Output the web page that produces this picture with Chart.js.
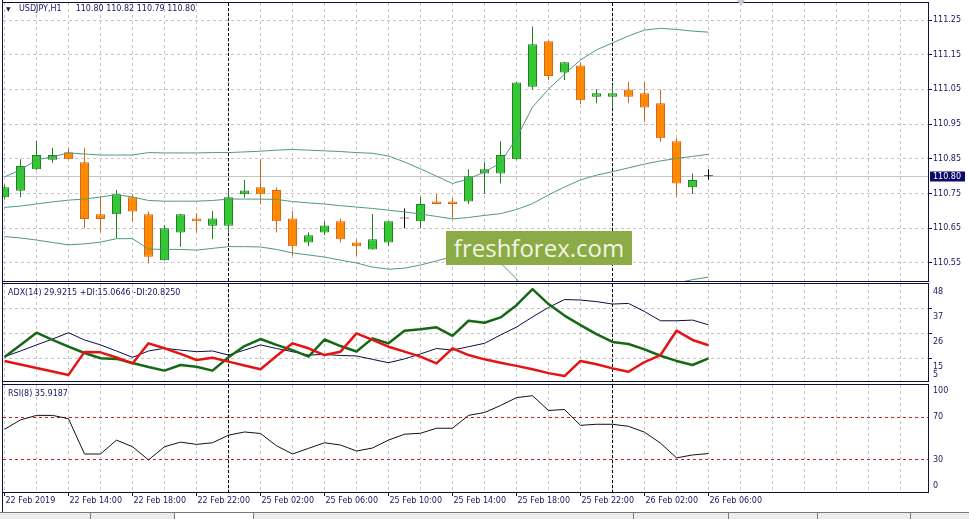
<!DOCTYPE html>
<html>
<head>
<meta charset="utf-8">
<title>USDJPY H1</title>
<script src="https://cdn.jsdelivr.net/npm/chart.js@4.4.1/dist/chart.umd.min.js"></script>
<style>
body { margin: 0; background: #fff; }
#wrap { position: relative; width: 969px; height: 519px; overflow: hidden; background: #fff; }
#wrap canvas { position: absolute; left: 0; }
.cap { position: absolute; font: 8px "DejaVu Sans", sans-serif; line-height: 10px; color: #16165e; white-space: pre; }
#watermark { position: absolute; left: 446px; top: 231px; width: 186px; height: 34px; background: #8aab45; color: #f2f5e4; font: 24px "Open Sans", sans-serif; line-height: 34px; text-align: center; }
#leftEdge { position: absolute; left: 2px; top: 0; width: 1px; height: 512px; background: #10103a; }
#shift { position: absolute; left: 737px; top: 0; width: 0; height: 0; border-left: 4px solid transparent; border-right: 4px solid transparent; border-top: 6px solid #c8c8d0; }
#tabs { position: absolute; left: 0; top: 512px; width: 969px; height: 7px; background: #ececec; border-top: 1px solid #7a7a7a; }
.tab { position: absolute; top: 0; height: 7px; border-left: 1px solid #7a7a7a; }
</style>
</head>
<body>
<div id="wrap">
<canvas id="mainChart" width="969" height="282" style="top:0"></canvas>
<canvas id="adxChart" width="969" height="101" style="top:282px"></canvas>
<canvas id="rsiChart" width="969" height="126" style="top:383px"></canvas>
<div id="leftEdge"></div>
<div id="shift"></div>
<div class="cap" style="left:6px;top:4px;font-size:6px">▼</div>
<div class="cap" style="left:19px;top:4px">USDJPY,H1<span style="margin-left:14px">110.80 110.82 110.79 110.80</span></div>
<div class="cap" style="left:8px;top:288px">ADX(14) 29.9215 +DI:15.0646 -DI:20.8250</div>
<div class="cap" style="left:8px;top:389px">RSI(8) 35.9187</div>
<div id="watermark">freshforex.com</div>
<div id="tabs">
<div class="tab" style="left:90px"></div>
<div class="tab" style="left:174px;width:78px;background:#fff"></div>
<div class="tab" style="left:253px"></div>
<div class="tab" style="left:633px"></div>
<div class="tab" style="left:728px"></div>
<div class="tab" style="left:817px"></div>
<div class="tab" style="left:910px"></div>
</div>
</div>

<script>
// ===== data (H1 bars, 22 Feb 10:00 .. 26 Feb 06:00) =====
const timeLabels = ["22 Feb 2019", "22 Feb 14:00", "22 Feb 18:00", "22 Feb 22:00",
  "25 Feb 02:00", "25 Feb 06:00", "25 Feb 10:00", "25 Feb 14:00",
  "25 Feb 18:00", "25 Feb 22:00", "26 Feb 02:00", "26 Feb 06:00"];
const labelEvery = 4;
const dayStarts = [14, 38];

const openPrice = [110.739, 110.758, 110.820, 110.847, 110.869, 110.840, 110.690, 110.690, 110.739, 110.690,
  110.558, 110.638, 110.678, 110.657, 110.657, 110.748, 110.768, 110.760, 110.678, 110.609,
  110.638, 110.670, 110.609, 110.589, 110.609, 110.678, 110.670, 110.727, 110.727, 110.727,
  110.808, 110.808, 110.849, 111.058, 111.189, 111.099, 111.119, 111.029, 111.029, 111.050,
  111.039, 111.010, 110.901, 110.768, 110.800];
const highPrice = [110.775, 110.849, 110.902, 110.882, 110.882, 110.882, 110.739, 110.760, 110.749, 110.698,
  110.659, 110.691, 110.693, 110.700, 110.760, 110.789, 110.849, 110.768, 110.700, 110.638,
  110.670, 110.678, 110.618, 110.691, 110.671, 110.707, 110.741, 110.749, 110.737, 110.820,
  110.840, 110.901, 111.071, 111.231, 111.190, 111.129, 111.128, 111.051, 111.063, 111.072,
  111.072, 111.050, 110.909, 110.808, 110.820];
const lowPrice = [110.733, 110.739, 110.818, 110.839, 110.848, 110.650, 110.638, 110.621, 110.669, 110.549,
  110.557, 110.597, 110.638, 110.618, 110.638, 110.738, 110.720, 110.638, 110.570, 110.598,
  110.630, 110.609, 110.570, 110.589, 110.598, 110.650, 110.650, 110.719, 110.678, 110.720,
  110.749, 110.779, 110.848, 111.050, 111.077, 111.077, 111.007, 111.010, 110.998, 111.010,
  110.957, 110.899, 110.741, 110.749, 110.790];
const closePrice = [110.768, 110.829, 110.861, 110.861, 110.849, 110.677, 110.677, 110.748, 110.698, 110.568,
  110.650, 110.690, 110.670, 110.678, 110.739, 110.759, 110.748, 110.670, 110.598, 110.630,
  110.658, 110.618, 110.598, 110.618, 110.670, 110.678, 110.720, 110.720, 110.720, 110.800,
  110.820, 110.861, 111.070, 111.180, 111.089, 111.128, 111.019, 111.039, 111.039, 111.029,
  110.998, 110.909, 110.779, 110.789, 110.800];

const bbUpper = [110.798, 110.818, 110.847, 110.856, 110.867, 110.864, 110.861, 110.861, 110.861, 110.868,
  110.867, 110.867, 110.867, 110.868, 110.868, 110.870, 110.872, 110.875, 110.877, 110.875,
  110.873, 110.871, 110.868, 110.866, 110.858, 110.841, 110.821, 110.800, 110.779, 110.792,
  110.812, 110.838, 110.910, 110.999, 111.051, 111.094, 111.135, 111.164, 111.184, 111.204,
  111.221, 111.226, 111.223, 111.218, 111.215];
const bbMiddle = [110.710, 110.714, 110.720, 110.726, 110.731, 110.734, 110.740, 110.747, 110.740, 110.730,
  110.728, 110.728, 110.728, 110.730, 110.734, 110.734, 110.734, 110.733, 110.727, 110.723,
  110.720, 110.715, 110.711, 110.707, 110.702, 110.697, 110.691, 110.684, 110.677, 110.681,
  110.687, 110.692, 110.704, 110.721, 110.746, 110.769, 110.789, 110.803, 110.813, 110.824,
  110.835, 110.844, 110.851, 110.857, 110.863];
const bbLower = [110.626, 110.622, 110.616, 110.609, 110.602, 110.605, 110.610, 110.620, 110.620, 110.590,
  110.589, 110.589, 110.587, 110.592, 110.597, 110.597, 110.596, 110.589, 110.579, 110.573,
  110.567, 110.558, 110.550, 110.538, 110.532, 110.535, 110.544, 110.556, 110.568, 110.573,
  110.570, 110.550, 110.504, 110.449, 110.429, 110.434, 110.443, 110.452, 110.458, 110.466,
  110.475, 110.483, 110.492, 110.502, 110.509];

const adxLine = [15.8, 18.3, 21.0, 23.6, 26.4, 23.2, 21.0, 18.3, 15.5, 18.3,
  19.5, 18.7, 18.0, 18.3, 16.5, 18.7, 21.0, 19.4, 18.0, 16.5,
  16.8, 16.3, 16.1, 14.6, 13.1, 14.8, 17.0, 19.4, 18.7, 20.2,
  21.7, 25.4, 28.9, 33.4, 37.6, 41.1, 40.9, 40.2, 39.1, 39.4,
  35.8, 31.7, 31.7, 32.0, 29.92];
const plusDI = [15.6, 21.0, 26.4, 23.2, 20.2, 17.4, 15.1, 14.8, 13.0, 11.2,
  9.6, 12.1, 11.3, 9.6, 15.5, 20.5, 23.6, 21.0, 18.7, 15.8,
  23.4, 20.5, 18.1, 23.9, 21.7, 27.3, 27.9, 28.8, 25.0, 31.7,
  30.8, 33.2, 38.6, 45.7, 39.1, 34.0, 29.8, 25.8, 22.3, 21.4,
  19.0, 16.2, 13.9, 12.1, 15.06];
const minusDI = [13.9, 12.3, 10.8, 9.2, 7.7, 17.9, 17.7, 15.4, 12.8, 21.7,
  19.5, 17.0, 14.3, 15.3, 13.6, 11.9, 10.2, 16.1, 21.7, 19.5,
  16.5, 18.0, 26.1, 23.2, 20.2, 18.0, 15.8, 12.8, 19.5, 16.5,
  14.6, 13.1, 11.7, 10.2, 8.5, 7.2, 13.9, 12.4, 10.6, 9.1,
  13.4, 16.5, 27.3, 23.2, 20.83];

const rsiValues = [58.6, 67.4, 71.6, 71.6, 68.5, 35.5, 35.5, 48.5, 42.3, 30.0,
  42.3, 46.6, 44.5, 46.0, 53.1, 56.1, 54.7, 43.2, 35.5, 40.8,
  46.0, 43.9, 38.3, 41.1, 48.5, 54.0, 54.9, 59.6, 59.6, 71.6,
  74.3, 80.8, 88.2, 90.0, 76.2, 77.1, 62.3, 63.3, 63.3, 61.4,
  55.9, 45.7, 31.9, 34.6, 35.92];

const priceTicks = [111.25, 111.15, 111.05, 110.95, 110.85, 110.75, 110.65, 110.55];
const bidPrice = 110.80;
const adxTicks = [48, 37, 26, 15, 5];
const adxGrid = [37, 26, 15];
const rsiTicks = [100, 70, 30, 0];
const rsiLevels = [70, 30];

// ===== colours =====
const NAVY = '#16165e';
const FRAME = '#10103a';
const GRID = '#c6c6c6';
const BAND = '#4c9c7c';
const BULL_FILL = '#34c934', BULL_LINE = '#227f22';
const BEAR_FILL = '#ff8a00', BEAR_LINE = '#d2691e';

// candles -> floating bars
let candleBody = [], candleWick = [], bodyFill = [], bodyLine = [];
openPrice.forEach((o, i) => {
  let c = closePrice[i];
  candleBody.push({x: i, y: [o, c]});
  candleWick.push({x: i, y: [lowPrice[i], highPrice[i]]});
  if (c > o) { bodyFill.push(BULL_FILL); bodyLine.push(BULL_LINE); }
  else if (c < o) { bodyFill.push(BEAR_FILL); bodyLine.push(BEAR_LINE); }
  else { bodyFill.push('#000'); bodyLine.push('#000'); }
});

function pts(arr) { return arr.map((v, i) => ({x: i, y: v})); }
function line(ctx, x1, y1, x2, y2) { ctx.beginPath(); ctx.moveTo(x1, y1); ctx.lineTo(x2, y2); ctx.stroke(); }
function snap(v) { return Math.round(v - 0.5) + 0.5; }

// 16px per bar, first bar at x=4.5
function xAxis(show) {
  return {
    type: 'linear', min: -0.09375, max: 57.71875, offset: false, display: show,
    grid: { display: show, drawOnChartArea: false, drawTicks: true, tickLength: 4, tickColor: FRAME, offset: false },
    border: { display: false },
    afterBuildTicks: s => { s.ticks = timeLabels.map((t, k) => ({value: k * labelEvery})); },
    afterFit: s => { if (show) s.height = 17; },
    ticks: {
      autoSkip: false, maxRotation: 0, minRotation: 0, align: 'start', labelOffset: 1, padding: 0,
      color: NAVY, font: { family: '"DejaVu Sans", sans-serif', size: 8 },
      callback: (v, idx) => timeLabels[idx]
    }
  };
}

function yAxis(min, max) {
  return {
    type: 'linear', position: 'right', min: min, max: max,
    grid: { display: false }, border: { display: false }, ticks: { display: false },
    afterFit: s => { s.width = 41; }
  };
}

// MT4 style panel: dashed grid, day separators, frame, right scale labels
function panel(p) {
  return {
    id: 'panel',
    beforeDatasetsDraw(chart) {
      const ctx = chart.ctx, a = chart.chartArea, x = chart.scales.x, y = chart.scales.y;
      ctx.save();
      ctx.lineWidth = 1;
      ctx.strokeStyle = GRID;
      ctx.setLineDash([3, 3]);
      for (let i = 0; x.getPixelForValue(i) < a.right; i += 2) {
        let px = x.getPixelForValue(i);
        line(ctx, px, a.top, px, a.bottom);
      }
      (p.grid || []).forEach(v => {
        let py = snap(y.getPixelForValue(v));
        line(ctx, a.left, py, a.right, py);
      });
      if (p.levels) {
        ctx.strokeStyle = '#cc2222';
        p.levels.forEach(v => {
          let py = snap(y.getPixelForValue(v));
          line(ctx, a.left, py, a.right, py);
        });
      }
      if (p.bid !== undefined) {
        ctx.setLineDash([]);
        ctx.strokeStyle = '#c3c3c3';
        let py = snap(y.getPixelForValue(p.bid));
        line(ctx, a.left, py, a.right, py);
      }
      ctx.strokeStyle = '#000';
      ctx.setLineDash([3, 2]);
      dayStarts.forEach(i => {
        let px = x.getPixelForValue(i);
        line(ctx, px, a.top, px, a.bottom);
      });
      ctx.restore();
    },
    afterDraw(chart) {
      const ctx = chart.ctx, a = chart.chartArea, y = chart.scales.y;
      ctx.save();
      ctx.lineWidth = 1;
      ctx.strokeStyle = FRAME;
      ctx.strokeRect(a.left - 0.5, a.top - 0.5, a.width + 1, a.height + 1);
      (p.marks || []).forEach(v => {
        let py = snap(y.getPixelForValue(v));
        line(ctx, a.right, py, a.right + 4, py);
      });
      ctx.font = '8px "DejaVu Sans"';
      ctx.textBaseline = 'middle';
      ctx.textAlign = 'left';
      ctx.fillStyle = NAVY;
      p.labels.forEach(v => {
        let py = y.getPixelForValue(v) + (p.shift || 0);
        py = Math.min(Math.max(py, a.top + 6), a.bottom - 6);
        ctx.fillText(p.format(v), a.right + 5, py);
      });
      if (p.bid !== undefined) {
        let py = snap(y.getPixelForValue(p.bid));
        ctx.fillStyle = '#0a0a6a';
        ctx.fillRect(a.right + 2, py - 5, 35, 10);
        ctx.fillStyle = '#fff';
        ctx.fillText(p.format(p.bid), a.right + 5, py);
      }
      ctx.restore();
    }
  };
}

const baseOptions = {
  responsive: false, animation: false, events: [],
  plugins: { legend: { display: false }, tooltip: { enabled: false } },
  elements: { point: { radius: 0 }, line: { tension: 0, borderJoinStyle: 'round' } }
};

// ===== price panel =====
new Chart(document.getElementById('mainChart'), {
  type: 'bar',
  data: {
    datasets: [
      { type: 'line', data: pts(bbUpper), borderColor: BAND, borderWidth: 1, order: 0 },
      { type: 'line', data: pts(bbMiddle), borderColor: BAND, borderWidth: 1, order: 0 },
      { type: 'line', data: pts(bbLower), borderColor: BAND, borderWidth: 1, order: 0 },
      { data: candleBody, backgroundColor: bodyFill, borderColor: bodyLine, borderWidth: 1,
        borderSkipped: false, barThickness: 9, grouped: false, minBarLength: 1,
        inflateAmount: 0, clip: 0, order: 1 },
      { data: candleWick, backgroundColor: bodyLine, borderWidth: 0, barThickness: 1,
        grouped: false, inflateAmount: 0, clip: 0, order: 2 }
    ]
  },
  options: Object.assign({}, baseOptions, {
    layout: { padding: { left: 3, top: 3, bottom: 1, right: 0 } },
    scales: { x: xAxis(false), y: yAxis(110.498, 111.299) }
  }),
  plugins: [panel({ grid: priceTicks, marks: priceTicks, labels: priceTicks, bid: bidPrice, format: v => v.toFixed(2) })]
});

// ===== ADX panel =====
new Chart(document.getElementById('adxChart'), {
  type: 'line',
  data: {
    datasets: [
      { data: pts(minusDI), borderColor: '#e41414', borderWidth: 2.5 },
      { data: pts(plusDI), borderColor: '#166816', borderWidth: 2.5 },
      { data: pts(adxLine), borderColor: '#0b0b4a', borderWidth: 1 }
    ]
  },
  options: Object.assign({}, baseOptions, {
    layout: { padding: { left: 3, top: 2, bottom: 2, right: 0 } },
    scales: { x: xAxis(false), y: yAxis(5, 48) }
  }),
  plugins: [panel({ grid: adxGrid, marks: adxGrid, labels: adxTicks, shift: 8, format: v => String(v) })]
});

// ===== RSI panel =====
new Chart(document.getElementById('rsiChart'), {
  type: 'line',
  data: {
    datasets: [
      { data: pts(rsiValues), borderColor: '#111', borderWidth: 1 }
    ]
  },
  options: Object.assign({}, baseOptions, {
    layout: { padding: { left: 3, top: 2, bottom: 0, right: 0 } },
    scales: { x: xAxis(true), y: yAxis(0, 100) }
  }),
  plugins: [panel({ levels: rsiLevels, labels: rsiTicks, format: v => String(v) })]
});
</script>
</body>
</html>
